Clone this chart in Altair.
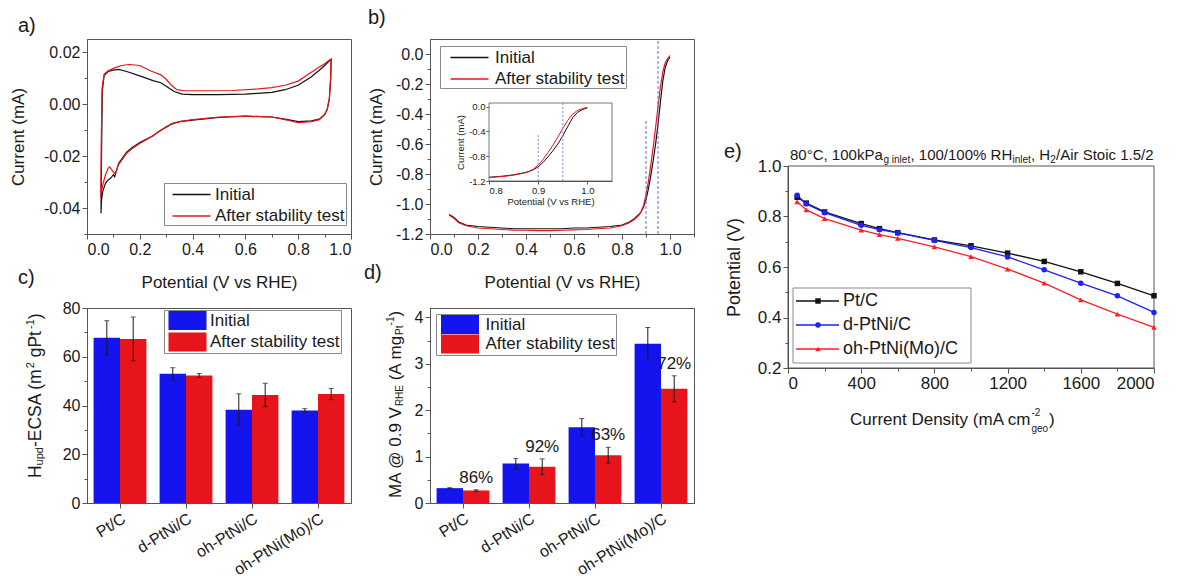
import altair as alt
import pandas as pd

F = "Liberation Sans"
INK = "#1a1a1a"
FRAME = "#555555"
BLACK = "#111111"
RED = "#e8141b"
BLUE = "#1414ee"
DASHC = "#6a6ae0"
MINUS = "\u2212"

series = ["Initial", "After stability test"]

# ---------------- a) cyclic voltammograms ----------------
cv_init_E = [0.053, 0.055, 0.058, 0.065, 0.08, 0.10, 0.12, 0.15, 0.20, 0.25, 0.28, 0.30, 0.33, 0.36, 0.40,
             0.50, 0.60, 0.70, 0.75, 0.80, 0.85, 0.88, 0.90, 0.92, 0.925,
             0.923, 0.918, 0.91, 0.90, 0.88, 0.85, 0.80, 0.75, 0.70, 0.60, 0.50, 0.40, 0.35, 0.32, 0.30,
             0.27, 0.25, 0.20, 0.17, 0.15, 0.12, 0.11, 0.105, 0.10, 0.09, 0.08, 0.07, 0.06, 0.055, 0.053]
cv_init_I = [-0.042, -0.020, 0.005, 0.011, 0.0125, 0.0130, 0.0133, 0.0125, 0.0108, 0.0090, 0.0082, 0.0068,
             0.0048, 0.0038, 0.0036, 0.0036, 0.0038, 0.0045, 0.0055, 0.0072, 0.0105, 0.0130, 0.0148, 0.0168, 0.0172,
             0.0100, 0.0020, -0.0020, -0.0040, -0.0058, -0.0065, -0.0068, -0.0058, -0.0050, -0.0047, -0.0052,
             -0.0062, -0.0068, -0.0078, -0.0088, -0.0108, -0.0122, -0.0148, -0.0168, -0.0185, -0.0228, -0.0262,
             -0.0280, -0.0272, -0.0285, -0.0292, -0.0305, -0.0335, -0.0370, -0.0420]
cv_aft_E = [0.052, 0.054, 0.057, 0.065, 0.08, 0.10, 0.13, 0.16, 0.20, 0.24, 0.28, 0.30, 0.32, 0.34, 0.37,
            0.45, 0.55, 0.65, 0.70, 0.75, 0.80, 0.85, 0.88, 0.90, 0.92, 0.925,
            0.923, 0.918, 0.91, 0.90, 0.88, 0.85, 0.80, 0.75, 0.70, 0.60, 0.50, 0.40, 0.35, 0.32, 0.30, 0.28,
            0.25, 0.22, 0.20, 0.17, 0.15, 0.12, 0.11, 0.105, 0.10, 0.09, 0.085, 0.08, 0.07, 0.06, 0.055, 0.052]
cv_aft_I = [-0.036, -0.015, 0.006, 0.0115, 0.0128, 0.0137, 0.0148, 0.0152, 0.0148, 0.0128, 0.0112, 0.0095,
            0.0072, 0.0055, 0.0051, 0.0051, 0.0052, 0.0058, 0.0063, 0.0072, 0.0088, 0.0122, 0.0142, 0.0155,
            0.0170, 0.0173,
            0.0100, 0.0020, -0.0020, -0.0042, -0.0060, -0.0068, -0.0072, -0.0060, -0.0050, -0.0047, -0.0050,
            -0.0060, -0.0068, -0.0075, -0.0090, -0.0100, -0.0122, -0.0140, -0.0152, -0.0172, -0.0190, -0.0232,
            -0.0258, -0.0268, -0.0262, -0.0248, -0.0242, -0.0248, -0.0272, -0.0310, -0.0335, -0.0360]
a_x_ticks = [0.0, 0.1, 0.2, 0.3, 0.4, 0.5, 0.6, 0.7, 0.8, 0.9, 1.0]
a_y_ticks = [-0.05, -0.04, -0.03, -0.02, -0.01, 0.0, 0.01, 0.02]

# ---------------- b) ORR polarisation ----------------
lsv_E = [0.08, 0.10, 0.12, 0.15, 0.20, 0.25, 0.30, 0.35, 0.40, 0.45, 0.50, 0.55, 0.60, 0.65, 0.70, 0.75,
         0.80, 0.83, 0.85, 0.87, 0.88, 0.89, 0.90, 0.91, 0.92, 0.93, 0.94, 0.95, 0.96, 0.97, 0.98, 0.99, 1.00]
lsv_init = [-1.07, -1.09, -1.12, -1.14, -1.15, -1.155, -1.16, -1.165, -1.165, -1.165, -1.165, -1.165, -1.16,
            -1.16, -1.155, -1.15, -1.14, -1.12, -1.10, -1.07, -1.05, -1.02, -0.97, -0.90, -0.81, -0.71, -0.60,
            -0.47, -0.32, -0.18, -0.09, -0.045, -0.02]
lsv_aft = [-1.075, -1.095, -1.125, -1.145, -1.16, -1.165, -1.17, -1.175, -1.175, -1.178, -1.178, -1.175,
           -1.172, -1.17, -1.165, -1.16, -1.145, -1.125, -1.105, -1.075, -1.05, -1.01, -0.94, -0.85, -0.74,
           -0.62, -0.49, -0.35, -0.22, -0.12, -0.06, -0.03, -0.01]
marker_E = [0.90, 0.95]
marker_top_main = [-0.44, 0.10]
marker_top_inset = [-0.46, 0.06]
b_x_ticks = [0.0, 0.1, 0.2, 0.3, 0.4, 0.5, 0.6, 0.7, 0.8, 0.9, 1.0, 1.1]
b_y_ticks = [-1.2, -1.1, -1.0, -0.9, -0.8, -0.7, -0.6, -0.5, -0.4, -0.3, -0.2, -0.1, 0.0]
inset_x_ticks = [0.8, 0.9, 1.0]
inset_y_ticks = [-1.2, -0.8, -0.4, 0.0]

# ---------------- c) ECSA ----------------
cats = ["Pt/C", "d-PtNi/C", "oh-PtNi/C", "oh-PtNi(Mo)/C"]
ecsa_init = [67.8, 53.0, 38.3, 38.0]
ecsa_init_err = [7.0, 2.5, 6.5, 0.7]
ecsa_aft = [67.3, 52.3, 44.3, 44.7]
ecsa_aft_err = [9.0, 0.8, 4.8, 2.3]
c_y_ticks = [0, 10, 20, 30, 40, 50, 60, 70, 80]

# ---------------- d) mass activity ----------------
ma_init = [0.32, 0.85, 1.63, 3.43]
ma_init_err = [0.01, 0.11, 0.19, 0.35]
ma_aft = [0.27, 0.78, 1.03, 2.46]
ma_aft_err = [0.015, 0.17, 0.17, 0.28]
retention = ["86%", "92%", "63%", "72%"]
d_y_ticks = [0, 0.5, 1, 1.5, 2, 2.5, 3, 3.5, 4]

# ---------------- e) fuel cell polarisation ----------------
e_series = ["Pt/C", "d-PtNi/C", "oh-PtNi(Mo)/C"]
j_cd = [50, 100, 200, 400, 500, 600, 800, 1000, 1200, 1400, 1600, 1800, 2000]
v_ptc = [0.876, 0.853, 0.818, 0.772, 0.752, 0.736, 0.707, 0.684, 0.655, 0.622, 0.581, 0.535, 0.486]
v_dptni = [0.884, 0.850, 0.815, 0.765, 0.748, 0.735, 0.705, 0.677, 0.640, 0.589, 0.536, 0.486, 0.420]
v_ohmo = [0.858, 0.826, 0.792, 0.746, 0.728, 0.713, 0.680, 0.641, 0.592, 0.536, 0.470, 0.413, 0.361]
e_x_ticks = [0, 200, 400, 600, 800, 1000, 1200, 1400, 1600, 1800, 2000]
e_y_ticks = [0.2, 0.3, 0.4, 0.5, 0.6, 0.7, 0.8, 0.9, 1.0]


def tick_size(test, major=5, minor=3):
    return {"condition": {"test": test, "value": major}, "value": minor}


def num_label(test, fmt):
    return f"({test}) ? replace(format(datum.value, '{fmt}'), '{MINUS}', '-') : ''"


T10 = "round(datum.value*10) % 2 == 0"
T100 = "round(datum.value*100) % 2 == 0"

line_legend = dict(orient="none", title=None, symbolType="M-2,0H2", symbolSize=361, symbolStrokeWidth=1.3,
                   labelFontSize=17, labelFont=F, labelColor=INK, strokeColor="#8a8a8a", fillColor="white",
                   padding=1, rowPadding=2.5, cornerRadius=0)
bar_legend = dict(orient="none", title=None, symbolType="M-2,-1H2V1H-2Z", symbolSize=361, symbolStrokeWidth=0,
                  labelFontSize=17, labelFont=F, labelColor=INK, strokeColor="#8a8a8a", fillColor="white",
                  padding=1, cornerRadius=0)

one = pd.DataFrame({"z": [0]})


def note(txt, x, y, size):
    return alt.Chart(one).mark_text(align="left", baseline="alphabetic", fontSize=size, font=F, color=INK).encode(
        x=alt.value(x), y=alt.value(y), text=alt.value(txt))


def vnote(txt, x, y, size):
    # rotated text, running upwards from (x, y)
    return alt.Chart(one).mark_text(align="left", baseline="middle", angle=270, fontSize=size, font=F,
                                    color=INK).encode(x=alt.value(x), y=alt.value(y), text=alt.value(txt))


# ======== panel a ========
dfa = pd.concat([
    pd.DataFrame({"E": cv_init_E, "I": cv_init_I, "s": series[0], "k": range(len(cv_init_E))}),
    pd.DataFrame({"E": cv_aft_E, "I": cv_aft_I, "s": series[1], "k": range(len(cv_aft_E))}),
])
a_lines = alt.Chart(dfa).mark_line(strokeWidth=1.2).encode(
    x=alt.X("E:Q", scale=alt.Scale(domain=[0, 1], nice=False),
            axis=alt.Axis(values=a_x_ticks, labelExpr=num_label(T10, ".1f"), tickSize=tick_size(T10),
                          title="Potential (V vs RHE)", titlePadding=17, labelOverlap=False)),
    y=alt.Y("I:Q", scale=alt.Scale(domain=[-0.05, 0.025], nice=False, zero=False),
            axis=alt.Axis(values=a_y_ticks, labelExpr=num_label(T100, ".2f"), tickSize=tick_size(T100),
                          title="Current (mA)", titlePadding=16, labelOverlap=False)),
    color=alt.Color("s:N", scale=alt.Scale(domain=series, range=[BLACK, RED]),
                    legend=alt.Legend(legendX=77, legendY=144, symbolOffset=16, labelOffset=13, **line_legend)),
    order="k:Q",
)
panel_a = alt.layer(a_lines, note("a)", -69, -7, 20)).properties(width=264, height=195)

# ======== panel b ========
dfb = pd.concat([
    pd.DataFrame({"E": lsv_E, "I": lsv_init, "s": series[0]}),
    pd.DataFrame({"E": lsv_E, "I": lsv_aft, "s": series[1]}),
])
dfv = pd.DataFrame({"E": marker_E, "lo": [-1.2, -1.2], "hi": marker_top_main})
dfiv = pd.DataFrame({"E": marker_E, "lo": [-1.2, -1.2], "hi": marker_top_inset})
color_b = alt.Color("s:N", scale=alt.Scale(domain=series, range=[BLACK, RED]),
                    legend=alt.Legend(legendX=10, legendY=7, symbolOffset=18, labelOffset=15, **line_legend))
bx = alt.Scale(domain=[0, 1.1], nice=False)
by = alt.Scale(domain=[-1.2, 0.1], nice=False, zero=False)
bx_axis = alt.Axis(values=b_x_ticks, labelExpr=num_label(T10, ".1f"), tickSize=tick_size(T10),
                   title="Potential (V vs RHE)", titlePadding=17, labelOverlap=False)
by_axis = alt.Axis(values=b_y_ticks, labelExpr=num_label(T10, ".1f"), tickSize=tick_size(T10),
                   title="Current (mA)", titlePadding=10, labelOverlap=False)
b_lines = alt.Chart(dfb).mark_line(strokeWidth=1.2).encode(
    x=alt.X("E:Q", scale=bx, axis=bx_axis), y=alt.Y("I:Q", scale=by, axis=by_axis), color=color_b)
b_marks = alt.Chart(dfv).mark_rule(strokeDash=[3, 2], color=DASHC, strokeWidth=1).encode(
    x=alt.X("E:Q", scale=bx, axis=bx_axis), y=alt.Y("lo:Q", scale=by, axis=by_axis), y2="hi:Q")
main_b = alt.layer(b_lines, b_marks)

ix = alt.Scale(domain=[0.8, 1.05], range=[59, 182], nice=False, zero=False)
iy = alt.Scale(domain=[-1.2, 0.06], range=[142, 64], nice=False, zero=False)
ix_axis = alt.Axis(orient="bottom", offset=-53, values=inset_x_ticks, format=".1f", labelFontSize=9.5,
                   titleFontSize=9.5, tickSize=3, labelPadding=1, title="Potential (V vs RHE)", titlePadding=2,
                   labelOverlap=False)
iy_axis = alt.Axis(orient="left", offset=-59, values=inset_y_ticks, labelExpr=num_label("true", ".1f"),
                   labelFontSize=9.5, titleFontSize=9.5, tickSize=3, labelPadding=1, title="Current (mA)",
                   titlePadding=3, labelOverlap=False)
ibox = pd.DataFrame({"x0": [0.8], "x1": [1.05], "y0": [-1.2], "y1": [0.06]})
i_bg = alt.Chart(ibox).mark_rect(fill="white", stroke=FRAME, strokeWidth=0.8).encode(
    x=alt.X("x0:Q", scale=ix, axis=ix_axis), x2="x1:Q", y=alt.Y("y0:Q", scale=iy, axis=iy_axis), y2="y1:Q")
i_lines = alt.Chart(dfb).transform_filter("datum.E >= 0.8").mark_line(strokeWidth=1).encode(
    x=alt.X("E:Q", scale=ix, axis=ix_axis), y=alt.Y("I:Q", scale=iy, axis=iy_axis), color=color_b)
i_marks = alt.Chart(dfiv).mark_rule(strokeDash=[2, 2], color=DASHC, strokeWidth=0.8).encode(
    x=alt.X("E:Q", scale=ix, axis=ix_axis), y=alt.Y("lo:Q", scale=iy, axis=iy_axis), y2="hi:Q")
inset_b = alt.layer(i_bg, i_lines, i_marks)

panel_b = alt.layer(main_b, inset_b, note("b)", -62, -15, 20)).resolve_scale(
    x="independent", y="independent").properties(width=264, height=195)


# ======== bar panels c, d ========
def bar_panel(init, init_err, aft, aft_err, ydomain, yticks, test, fmt, ytitle_parts, legx, legy, lab_off,
              sym_off, rowpad, label, label_x, label_y, texts=None):
    df = pd.DataFrame({
        "cat": cats * 2,
        "s": [series[0]] * 4 + [series[1]] * 4,
        "v": init + aft,
        "err": init_err + aft_err,
    })
    df["lo"] = df["v"] - df["err"]
    df["hi"] = df["v"] + df["err"]
    xenc = alt.X("cat:N", sort=cats, scale=alt.Scale(paddingInner=0.2, paddingOuter=0.1),
                 axis=alt.Axis(title=None, labelAngle=-32, labelAlign="right", labelBaseline="top",
                               labelPadding=2))
    xoff = alt.XOffset("s:N", sort=series, scale=alt.Scale(domain=series, paddingInner=0, paddingOuter=0))
    ys = alt.Scale(domain=ydomain, nice=False)
    yax = alt.Axis(values=yticks, labelExpr=num_label(test, fmt), tickSize=tick_size(test), title=None,
                   labelOverlap=False)
    bars = alt.Chart(df).mark_bar().encode(
        x=xenc, xOffset=xoff, y=alt.Y("v:Q", scale=ys, axis=yax),
        color=alt.Color("s:N", scale=alt.Scale(domain=series, range=[BLUE, RED]),
                        legend=alt.Legend(legendX=legx, legendY=legy, symbolOffset=sym_off, labelOffset=lab_off,
                                          rowPadding=rowpad, **bar_legend)))
    errs = alt.Chart(df).mark_rule(color=INK, strokeWidth=1).encode(
        x=xenc, xOffset=xoff, y=alt.Y("lo:Q", scale=ys, axis=yax), y2="hi:Q")
    cap_hi = alt.Chart(df).mark_tick(color=INK, thickness=1, size=5).encode(
        x=xenc, xOffset=xoff, y=alt.Y("hi:Q", scale=ys, axis=yax))
    cap_lo = alt.Chart(df).mark_tick(color=INK, thickness=1, size=5).encode(
        x=xenc, xOffset=xoff, y=alt.Y("lo:Q", scale=ys, axis=yax))
    layers = [bars, errs, cap_hi, cap_lo]
    if texts is not None:
        dft = df[df["s"] == series[1]].copy()
        dft["txt"] = texts
        layers.append(alt.Chart(dft).mark_text(fontSize=17, font=F, color=INK, baseline="bottom", dy=-3).encode(
            x=xenc, xOffset=xoff, y=alt.Y("hi:Q", scale=ys, axis=yax), text="txt:N"))
    layers.append(note(label, label_x, label_y, 20))
    for txt, x, y, size in ytitle_parts:
        layers.append(vnote(txt, x, y, size))
    return alt.layer(*layers).properties(width=264, height=195)


# rotated axis titles built from pieces so that sub-/superscripts can be shown
c_title = [("H", -51.5, 170, 17.5), ("upd", -47.5, 157.4, 11), ("-ECSA (m", -51.5, 139.1, 17.5),
           ("2", -56.5, 60.3, 11), ("gPt", -51.5, 49.3, 17.5), ("-1", -56.5, 21.0, 11),
           (")", -51.5, 11.2, 17.5)]
d_title = [("MA @ 0.9 V", -34, 190, 17), ("RHE", -30, 98.1, 10), ("(A mg", -34, 72.3, 17),
           ("Pt", -30, 26.9, 10), ("-1", -39, 17.4, 10), (")", -34, 8.5, 17)]

panel_c = bar_panel(ecsa_init, ecsa_init_err, ecsa_aft, ecsa_aft_err, [0, 80], c_y_ticks, "datum.value % 20 == 0",
                    "d", c_title, 77, 2, 13, 13, 2.5, "c)", -69, -24)
panel_d = bar_panel(ma_init, ma_init_err, ma_aft, ma_aft_err, [0, 4.2], d_y_ticks, "datum.value % 1 == 0",
                    "d", d_title, 6, 6, 16, 13.5, 0.5, "d)", -66, -29, texts=retention)

# ======== panel e ========
dfe = pd.concat([
    pd.DataFrame({"j": j_cd, "V": v_ptc, "s": e_series[0]}),
    pd.DataFrame({"j": j_cd, "V": v_dptni, "s": e_series[1]}),
    pd.DataFrame({"j": j_cd, "V": v_ohmo, "s": e_series[2]}),
])
ecol = alt.Scale(domain=e_series, range=[BLACK, "#1f1fff", "#ff1f1f"])
eshape = alt.Scale(domain=e_series, range=["square", "circle", "triangle-up"])
ex = alt.Scale(domain=[0, 2000], range=[15, 381], nice=False)
ey = alt.Scale(domain=[0.2, 1.0], range=[329, 127], nice=False, zero=False)
E400 = "datum.value % 400 == 0"
ex_axis = alt.Axis(orient="bottom", offset=134, values=e_x_ticks, labelExpr=num_label(E400, "d"),
                   tickSize=tick_size(E400), title=None, labelFontSize=17, labelOverlap=False)
ey_axis = alt.Axis(orient="left", offset=-15, values=e_y_ticks, labelExpr=num_label(T10, ".1f"),
                   tickSize=tick_size(T10), title="Potential (V)", labelFontSize=17, titleFontSize=18,
                   titlePadding=14, labelOverlap=False)
eframe = pd.DataFrame({"x0": [0], "x1": [2000], "y0": [0.2], "y1": [1.0]})
e_frame = alt.Chart(eframe).mark_rect(fillOpacity=0, stroke=FRAME, strokeWidth=1).encode(
    x=alt.X("x0:Q", scale=ex, axis=ex_axis), x2="x1:Q", y=alt.Y("y0:Q", scale=ey, axis=ey_axis), y2="y1:Q")
e_lines = alt.Chart(dfe).mark_line(strokeWidth=1.3).encode(
    x=alt.X("j:Q", scale=ex, axis=ex_axis), y=alt.Y("V:Q", scale=ey, axis=ey_axis),
    color=alt.Color("s:N", scale=ecol, legend=None))
e_pts = alt.Chart(dfe).mark_point(filled=True, size=30, opacity=1).encode(
    x=alt.X("j:Q", scale=ex, axis=ex_axis), y=alt.Y("V:Q", scale=ey, axis=ey_axis),
    color=alt.Color("s:N", scale=ecol, legend=None), shape=alt.Shape("s:N", scale=eshape, legend=None))
e_data = alt.layer(e_frame, e_lines, e_pts)

legdf = pd.DataFrame({"s": e_series})
ly = alt.Y("s:N", sort=e_series, scale=alt.Scale(type="point", domain=e_series, range=[262, 310], padding=0),
           axis=None)
l_box = alt.Chart(one).mark_rect(fill="white", stroke="#8a8a8a", strokeWidth=1).encode(
    x=alt.value(20), x2=alt.value(198), y=alt.value(249), y2=alt.value(324))
l_rule = alt.Chart(legdf).mark_rule(strokeWidth=1.3).encode(
    x=alt.value(23), x2=alt.value(66), y=ly, color=alt.Color("s:N", scale=ecol, legend=None))
l_pt = alt.Chart(legdf).mark_point(filled=True, size=30, opacity=1).encode(
    x=alt.value(45), y=ly, color=alt.Color("s:N", scale=ecol, legend=None),
    shape=alt.Shape("s:N", scale=eshape, legend=None))
l_txt = alt.Chart(legdf).mark_text(align="left", baseline="middle", fontSize=18, font=F, color=INK).encode(
    x=alt.value(70), y=ly, text="s:N")
e_legend = alt.layer(l_box, l_rule, l_pt, l_txt)

e_notes = [
    note("e)", -49, 119, 20),
    note("80°C, 100kPa", 17, 121, 15),
    note("g inlet", 110.5, 124, 10),
    note(", 100/100% RH", 137.5, 121, 15),
    note("inlet", 239.5, 124, 10),
    note(", H", 258, 121, 15),
    note("2", 277.3, 124, 10),
    note("/Air Stoic 1.5/2", 283, 121, 15),
    # x-axis title with super/subscript
    note("Current Density (mA cm", 77, 386, 17),
    note("-2", 258.5, 377, 10),
    note("geo", 258.5, 393, 10),
    note(")", 276, 386, 17),
]

panel_e = alt.layer(e_data, e_legend, *e_notes).resolve_scale(y="independent").properties(
    width=381, height=195, view=alt.ViewBackground(stroke=None))

chart = alt.concat(
    panel_a, panel_b, panel_e, panel_c, panel_d,
    columns=3, spacing={"row": 74, "column": 79}, bounds="flush",
).resolve_scale(color="independent", shape="independent").resolve_legend(
    color="independent", shape="independent"
).properties(
    padding={"left": 9, "top": 7, "right": 5, "bottom": 5}, background="white"
).configure_view(
    stroke=FRAME, strokeWidth=1
).configure_axis(
    domainColor=FRAME, tickColor=FRAME, labelColor=INK, titleColor=INK, labelFont=F, titleFont=F,
    labelFontSize=16, titleFontSize=17, titleFontWeight="normal", grid=False, tickSize=5, labelPadding=2
)

chart.save("out.html", embed_options={"renderer": "svg", "actions": False})
